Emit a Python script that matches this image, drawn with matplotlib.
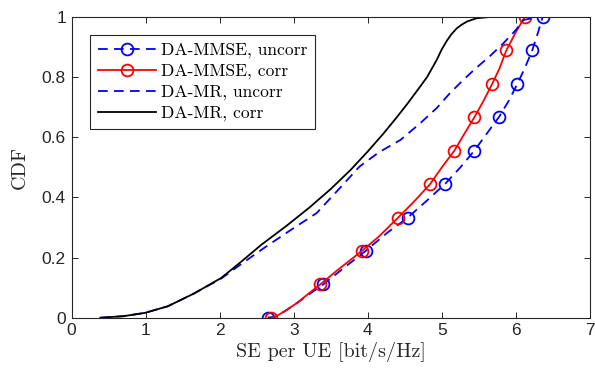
import matplotlib
matplotlib.use("Agg")
import matplotlib.pyplot as plt

# ---------------- data ----------------
# DA-MMSE, corr (red, solid, circle markers)
mmse_corr_x = [2.70, 2.76, 2.9, 3.05, 3.2, 3.36, 3.6, 3.92, 4.15, 4.41, 4.62, 4.84, 5.0, 5.17,
               5.3, 5.44, 5.56, 5.68, 5.78, 5.87, 6.0, 6.12]
mmse_corr_y = [0.0, 0.004, 0.025, 0.05, 0.08, 0.111, 0.16, 0.222, 0.27, 0.333, 0.385, 0.444,
               0.5, 0.556, 0.61, 0.667, 0.72, 0.778, 0.83, 0.889, 0.95, 1.0]
mmse_corr_marks = [0, 5, 7, 9, 11, 13, 15, 17, 19, 21]

# DA-MMSE, uncorr (blue, dashed, circle markers)
mmse_uncorr_x = [2.65, 2.76, 2.9, 3.05, 3.22, 3.40, 3.7, 3.97, 4.25, 4.54, 4.8, 5.04, 5.25, 5.44,
                 5.6, 5.77, 5.9, 6.02, 6.12, 6.22, 6.3, 6.36]
mmse_uncorr_y = [0.0, 0.004, 0.025, 0.05, 0.08, 0.111, 0.17, 0.222, 0.28, 0.333, 0.39, 0.444,
                 0.5, 0.556, 0.61, 0.667, 0.72, 0.778, 0.83, 0.889, 0.95, 1.0]
mmse_uncorr_marks = [0, 5, 7, 9, 11, 13, 15, 17, 19, 21]

# DA-MR, uncorr (blue dashed)
mr_uncorr_x = [0.39, 0.7, 0.99, 1.30, 1.65, 2.02, 2.3, 2.6, 2.95, 3.31, 3.6, 3.89, 4.15, 4.44,
               4.7, 4.93, 5.11, 5.29, 5.46, 5.64, 5.82, 6.0, 6.1, 6.3]
mr_uncorr_y = [0.0, 0.005, 0.016, 0.038, 0.08, 0.13, 0.18, 0.232, 0.29, 0.348, 0.425, 0.503,
               0.55, 0.591, 0.645, 0.697, 0.747, 0.791, 0.83, 0.868, 0.91, 0.957, 0.99, 1.0]

# DA-MR, corr (black solid)
mr_corr_x = [0.39, 0.7, 0.99, 1.30, 1.65, 2.02, 2.3, 2.56, 2.9, 3.21, 3.5, 3.77, 4.0, 4.21,
             4.38, 4.53, 4.66, 4.80, 4.93, 5.0, 5.07, 5.13, 5.20, 5.27, 5.34, 5.47, 5.65]
mr_corr_y = [0.0, 0.005, 0.016, 0.038, 0.08, 0.132, 0.188, 0.242, 0.305, 0.366, 0.428, 0.492,
             0.553, 0.612, 0.663, 0.71, 0.753, 0.80, 0.857, 0.893, 0.922, 0.943, 0.962, 0.975,
             0.985, 0.996, 1.0]

x_ticks = [0, 1, 2, 3, 4, 5, 6, 7]
y_ticks = [0, 0.2, 0.4, 0.6, 0.8, 1]
y_tick_labels = ["0", "0.2", "0.4", "0.6", "0.8", "1"]

# ---------------- plot ----------------
plt.rcParams['lines.scale_dashes'] = False
fig = plt.figure(figsize=(5.95, 3.69), dpi=100)
ax = fig.add_axes([71.5 / 595, 51.3 / 369, 518.5 / 595, 300.7 / 369])

serif = ['cmr10', 'Liberation Serif', 'DejaVu Serif']
dash = (7, 4.5)
lw = 1.3
ax.plot(mmse_uncorr_x, mmse_uncorr_y, color='#0000ff', lw=lw, linestyle=(0, dash),
        marker='o', markevery=mmse_uncorr_marks, markersize=8.5, markerfacecolor='none',
        markeredgewidth=1.3, label='DA-MMSE, uncorr')
ax.plot(mmse_corr_x, mmse_corr_y, color='#ff0000', lw=lw, linestyle='-',
        marker='o', markevery=mmse_corr_marks, markersize=8.5, markerfacecolor='none',
        markeredgewidth=1.3, label='DA-MMSE, corr')
ax.plot(mr_uncorr_x, mr_uncorr_y, color='#0000ff', lw=lw, linestyle=(0, dash),
        label='DA-MR, uncorr')
ax.plot(mr_corr_x, mr_corr_y, color='black', lw=lw, linestyle='-',
        label='DA-MR, corr')

ax.set_xlim(0, 7)
ax.set_ylim(0, 1)
ax.set_xticks(x_ticks)
ax.set_yticks(y_ticks)
ax.set_yticklabels(y_tick_labels)

for lab in ax.get_xticklabels() + ax.get_yticklabels():
    lab.set_fontfamily('Liberation Sans')
    lab.set_fontsize(12.5)
    lab.set_color('#262626')

ax.tick_params(direction='in', top=True, right=True, length=4.5, width=0.7,
               colors='#262626', pad=4)
for s in ax.spines.values():
    s.set_color('#262626')
    s.set_linewidth(0.8)

ax.set_xlabel('SE per UE [bit/s/Hz]', family=serif, fontsize=14.5, color='#262626')
ax.set_ylabel('CDF', family=serif, fontsize=14.5, color='#262626')
ax.xaxis.set_label_coords(0.5, (318 - 352) / 300.7)
ax.xaxis.label.set_va('center')
ax.yaxis.set_label_coords((20 - 71.5) / 518.5, 0.5)
ax.yaxis.label.set_va('center')

leg = ax.legend(loc='upper left', bbox_to_anchor=(0.0357, 0.941),
                prop={'family': serif, 'size': 12.6},
                frameon=True, fancybox=False, edgecolor='#262626', framealpha=1,
                handlelength=3.3, handletextpad=0.3, borderpad=0.45, labelspacing=0.3,
                borderaxespad=0)
leg.get_frame().set_linewidth(0.8)

fig.savefig('out.png', dpi=100)
